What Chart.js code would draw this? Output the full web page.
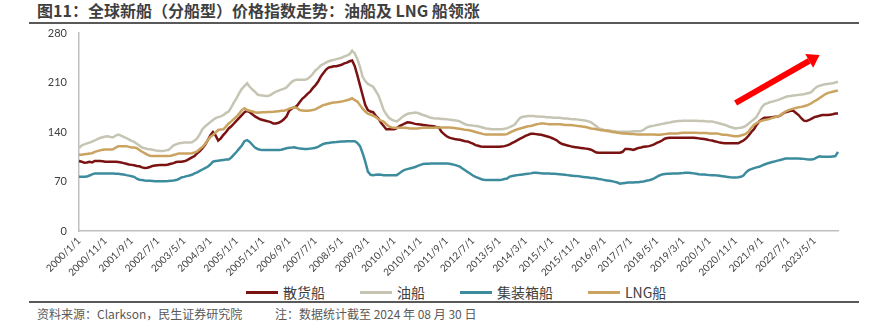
<!DOCTYPE html>
<html>
<head>
<meta charset="utf-8">
<script src="https://cdn.jsdelivr.net/npm/chart.js@4.4.1/dist/chart.umd.min.js"></script>
<style>
  html, body { margin: 0; padding: 0; background: #fff; }
  #wrap { position: relative; width: 885px; height: 327px; overflow: hidden; font-family: "Noto Sans CJK SC", sans-serif; }
  #title { position: absolute; left: 37px; top: 0; line-height: 20px; font-size: 16px; font-weight: bold; color: #3f3f3f; white-space: nowrap; }
  .rule { position: absolute; left: 29px; width: 830px; height: 2px; background: #595959; }
  #chart { position: absolute; left: 0; top: 0; }
  #legend { position: absolute; left: 246px; top: 282px; display: flex; align-items: center; height: 20px; font-size: 14px; color: #404040; }
  .item { display: flex; align-items: center; margin-right: 35px; white-space: nowrap; }
  .swatch { width: 32px; height: 3px; margin-right: 5px; }
  .note { position: absolute; top: 305px; line-height: 18px; font-size: 12px; color: #595959; white-space: nowrap; }
</style>
</head>
<body>
<div id="wrap">
  <div id="title">图11：全球新船（分船型）价格指数走势：油船及 LNG 船领涨</div>
  <div class="rule" style="top:22px"></div>
  <canvas id="chart" width="885" height="280"></canvas>
  <div id="legend"></div>
  <div class="rule" style="top:301px"></div>
  <div class="note" style="left:37px">资料来源：Clarkson，民生证券研究院</div>
  <div class="note" style="left:275px">注：数据统计截至 2024 年 08 月 30 日</div>
</div>
<script>
// monthly categories, 2000/1 .. 2024/2
const labels = [];
for (let i = 0; i < 290; i++) {
  labels.push((2000 + Math.floor(i / 12)) + '/' + (i % 12 + 1) + '/1');
}

// 散货船
const bulk = [
  99,98,96.5,97,98,97,99,99,99,98.5,98,98,
  98,98,98,97.5,97,96,95,94,93.5,93,92,91.5,
  90,89,89.5,90.5,92,92.5,93,93.5,93.5,93.5,94,95,
  96,97.5,98,98,98.5,100,102,104,106,110,113,117,
  122,128,135,140,135,128,131,136,140,145,148,152,
  156,160,164,168,170,168,165,162,160,158,157,156,
  155,154,152,152,153,155,158,162,170,173,175,177,
  182,187,190,194,197,202,206,211,218,223,228,231,
  232,233,233,234,235,237,238,240,241,233,220,206,
  192,178,171,169,168,163,159,153,148.5,144,144,144,
  144,145.5,148.5,150,152,153.7,153.5,152.5,151.5,151,150.5,150,
  149.5,149,148.5,148,147,146.5,140.5,137,134,132,131,130,
  129.5,129,128,127,126.7,125,123.5,121.5,120.5,119.5,119,119,
  119,119,119,119,119,119.5,120,121,122.5,124.5,126.5,128.5,
  130.5,132.5,134.5,136,137.5,137.5,137,136.5,136,135,134,133,
  131.5,130,128,125,123,122,121,120,119,118.5,118,117.5,
  117,116.5,116,115,113,111,110.5,110.5,110.5,110.5,110.5,110.5,
  110.5,110.7,110.7,112,116,116,115.5,114.5,116,117.5,118,119,
  119.5,120,121,122.5,124.5,126,128,130.5,131.5,132,132,132,
  132,132,132,132,132,132,132,131.5,131,130.5,130,129.5,
  128.5,128,127,126,125,124.5,124,124,124,124,124,124,
  126,128,131,135,140,144,150,155,158,160,160,160.5,
  161,161.5,162,163,166,168,169,170,170,167,164,159.5,
  156,155.5,157,159,161,162,163,164,164,164,164.5,165,
  166,166
];

// 油船
const tanker = [
  117,121,122.5,124,125,126.5,128,130,131.5,132.5,133.5,134,
  133,132.5,135,136.5,135,133,131.5,129.5,127.5,126,123.5,121,
  118,117,116,115.5,115,114,113.5,113,113,114,114.5,117.5,
  121,122.5,124,124.5,125,125,125,125.5,128,131,137,144,
  148,151,154,157,159.5,161,162,164,167,169,175,182,
  188,195,201,205,209,204,200,197,193,192,191.5,191,
  191,192.5,195,197,198.5,200,201,203,207,211,213,214,
  214,214,214,215,218,222,227,230,234,236,238,240,
  241,242,243,244,245,247,248,250,255,251,243,232,
  218,212,208,206,204,198,192,182,171,165,160,157.5,
  156,155,157.5,161,163.5,165.5,166.5,167,167.4,167,165.5,164,
  163,161.5,160,159.4,159,159,158.5,158.4,158,157.5,157,156.5,
  156,155,153,151,150,149.5,149,148.5,148,147,146,145,
  144.5,144,144,144,144,144,144.5,145.5,147,148.5,151,156,
  160,161.5,162,162.5,162.7,162.5,162,162,161.7,161.5,161,161,
  160.5,160,160,160,159.5,159,159,158.5,158,158,157.5,157,
  156.5,156,155,153.5,151,148,145,144,143,142.5,142,141.5,
  141,140.5,140.5,140.5,140.5,140.5,140.5,141,141,141,141.4,143,
  146,147.5,148.5,149,150,150.5,151.5,152,153,153.5,154.5,155,
  155.5,155.5,156,156,156,156,156,156,155.7,155.5,155.5,155,
  155,154.7,154,153,152,151,150,148.5,147,146,145,145.5,
  146,147,149,152,155,158,161.5,168,175,179,180.5,182,
  183,184,185,186.4,188,189.5,190.5,191,191.5,192,192.5,193,
  193.5,194.5,195,197,201,204,205.5,206.5,207.5,208,208.5,209,
  210,211
];

// 集装箱船
const container = [
  76.6,76.6,76.6,77,78.5,80,81.4,81.4,81.4,81.4,81.4,81.4,
  81.4,81.2,81,80.8,80.4,79.8,79,78.3,77.5,76.6,74,72.5,
  72,71.4,71.2,71,70.8,70.5,70.5,70.5,70.5,70.5,70.8,71.2,
  71.4,72,73.5,75.7,76.5,77.6,78.5,79.5,81.4,83,85,87,
  89,90.8,94,98,99,99.5,100,100.5,101,101.2,104,108,
  112,116.5,121,127,128.6,126,122,118,116,115,114.5,114.5,
  114.5,114.5,114.5,114.5,114.5,115,116,117,117.8,118,118.3,117.5,
  116.5,116.4,116,116,116.5,117,117.8,119,121,123,124,124.5,
  125,125.5,125.8,126.3,126.5,126.5,126.8,127,127,127,124.5,120,
  110,98,84,79.5,79,79.5,80,79.5,79,79,79,79,
  79,79,81.5,84.5,86.5,87.5,88.5,89.4,90.5,92,93.5,94.6,
  95,95.2,95.5,95.5,95.5,95.5,95.5,95.5,95.3,95,94.5,93.5,
  92.5,91,88.5,86,83.5,81,78.5,76.6,75,73.5,72.5,72,
  72,72,72,72,72,72.5,73.5,74.3,77,77.8,78.5,79,
  79.5,80,80.5,81,81.5,82.3,82.3,82,81.5,81.4,81.4,81.4,
  81,80.8,80.6,80.4,80,79.5,79,78.5,78,77.8,77.6,77,
  76.5,76,75.5,75,74.8,74.3,73.5,73,72,71.5,71,70.5,
  69.5,68.5,67,67.5,68,68.5,68.5,68.5,69,69,69.5,70,
  71,71.8,72.8,74.5,76.5,78.5,80,80.5,80.8,81,81.2,81.4,
  81.4,81.8,82,82.3,82.3,82,81.5,81,80.4,80,80,79.5,
  79.2,79,79,78.5,78,77.5,77,76.5,76,75.7,75.7,76,
  76.6,78.5,83,86,87.5,89,90,90.8,92.5,94,95.5,96.5,
  97.5,98.5,99.5,100.5,101.5,102.6,102.6,102.6,102.6,102.6,102.6,102.3,
  102,101.5,101.2,101.2,102,104,105.5,105,105,105,105,105.5,
  106,112
];

// LNG船
const lng = [
  108,108,108.5,109,109.5,110,112,113,114,115,115.4,115.4,
  115.4,115.5,118,120,120,120,120,119,118,118,117,114.5,
  112,110,108,106.5,106,106,106,106,106,106,106,106.5,
  107.5,108.5,109.7,109.7,109.7,109.7,109.7,110,111,112.5,116,119,
  123,128,133,135.7,139,142.8,143.5,143.8,148,152,155,158.5,
  161.7,166,171,173.5,171,170,169,168,167.4,167.5,167.8,168,
  168.3,168.3,168.5,169,169.5,170,170,171,173,174,175,174,
  171,170.5,170,170,170.5,171,172,174,176,178,179,180,
  181,181.6,182,182.5,183,184,185,186,187.7,185,183,178,
  173,169,166,164.5,163,161,158,156,154.6,151,148,146.5,
  146,146,146,146,146,145.5,145,145,145,145,145.5,146,
  146,146,146,146,146.5,146.5,146.5,146.5,146.5,146.5,146,145.5,
  145,144.5,144,143,142.8,142,141,140,139,138,137,136.6,
  136.6,136.6,136.6,136.6,136.6,136.6,136.6,137,139,141,142.5,144,
  145,146,147,148,148.5,149.5,150.5,151.5,152,152,151.5,151,
  151,151,151,151,150.5,150,150,150,149.5,149,148.5,148,
  147.5,147,146,145,144.5,144,143,142.5,142,141.5,141,140,
  139.5,139,138.5,138,138,137.5,137,137,136.7,136.5,136.5,136.5,
  136.5,136.5,136.5,136.5,136,136,136.5,137,137.5,138,138,138,
  138,138.5,139,139,139,139,139,139,138.5,138.5,138.5,138.5,
  138,138,138,138,137,136,136,135.7,135,134.5,134,134,
  135,136,137.5,141,146,150,152.5,154.5,156,157,157.7,158.5,
  160,161,162,163.5,166,169,170.5,172,173,174,175,175.5,
  176.5,177.4,179,181,183.5,185.5,188,190.5,193,195,196,197,
  198,198.5
];

const names  = ['散货船', '油船', '集装箱船', 'LNG船'];
const colors = ['#7a1212', '#c6c5b3', '#3d8c9e', '#c9a35f'];
const series = [bulk, tanker, container, lng];

// trend arrow, in category index / index value
const arrowFrom = [250, 181];
const arrowTo   = [282, 249];

const arrowPlugin = {
  id: 'trendArrow',
  afterDatasetsDraw(chart) {
    const { ctx, scales: { x, y } } = chart;
    const x1 = x.getPixelForValue(arrowFrom[0]), y1 = y.getPixelForValue(arrowFrom[1]);
    const x2 = x.getPixelForValue(arrowTo[0]),   y2 = y.getPixelForValue(arrowTo[1]);
    const ang = Math.atan2(y2 - y1, x2 - x1);
    const headLen = 12, headW = 8;
    const bx = x2 - headLen * Math.cos(ang), by = y2 - headLen * Math.sin(ang);
    ctx.save();
    ctx.strokeStyle = '#ff0000';
    ctx.fillStyle = '#ff0000';
    ctx.lineWidth = 6;
    ctx.beginPath();
    ctx.moveTo(x1, y1);
    ctx.lineTo(bx, by);
    ctx.stroke();
    ctx.beginPath();
    ctx.moveTo(x2, y2);
    ctx.lineTo(bx + headW * Math.sin(ang), by - headW * Math.cos(ang));
    ctx.lineTo(bx - headW * Math.sin(ang), by + headW * Math.cos(ang));
    ctx.closePath();
    ctx.fill();
    ctx.restore();
  }
};

new Chart(document.getElementById('chart'), {
  type: 'line',
  data: {
    labels,
    datasets: series.map((d, i) => ({
      label: names[i],
      data: d,
      borderColor: colors[i],
      backgroundColor: colors[i],
      borderWidth: 2.5,
      pointRadius: 0,
      tension: 0,
      order: 3 - i
    }))
  },
  options: {
    responsive: false,
    animation: false,
    events: [],
    layout: { padding: { left: 0, right: 47, top: 33, bottom: 0 } },
    plugins: { legend: { display: false }, tooltip: { enabled: false } },
    scales: {
      x: {
        grid: { display: false, drawTicks: false },
        border: { display: true, color: '#bfbfbf', width: 1.5 },
        ticks: {
          autoSkip: false,
          maxRotation: 45,
          minRotation: 45,
          padding: 4,
          color: '#404040',
          font: { family: 'Lato', size: 10 },
          callback(v, i) { return i % 10 === 0 ? this.getLabelForValue(v) : null; }
        },
        afterFit(s) { s.height = 49; }
      },
      y: {
        min: 0,
        max: 280,
        grid: { display: false, drawTicks: false },
        border: { display: true, color: '#bfbfbf', width: 1.5 },
        ticks: { stepSize: 70, padding: 12, color: '#404040', font: { family: 'Lato', size: 11 } },
        afterFit(s) { s.width = 79; }
      }
    }
  },
  plugins: [arrowPlugin]
});

document.getElementById('legend').innerHTML = names.map((n, i) =>
  `<div class="item"><div class="swatch" style="background:${colors[i]}"></div><span>${n}</span></div>`
).join('');
</script>
</body>
</html>
